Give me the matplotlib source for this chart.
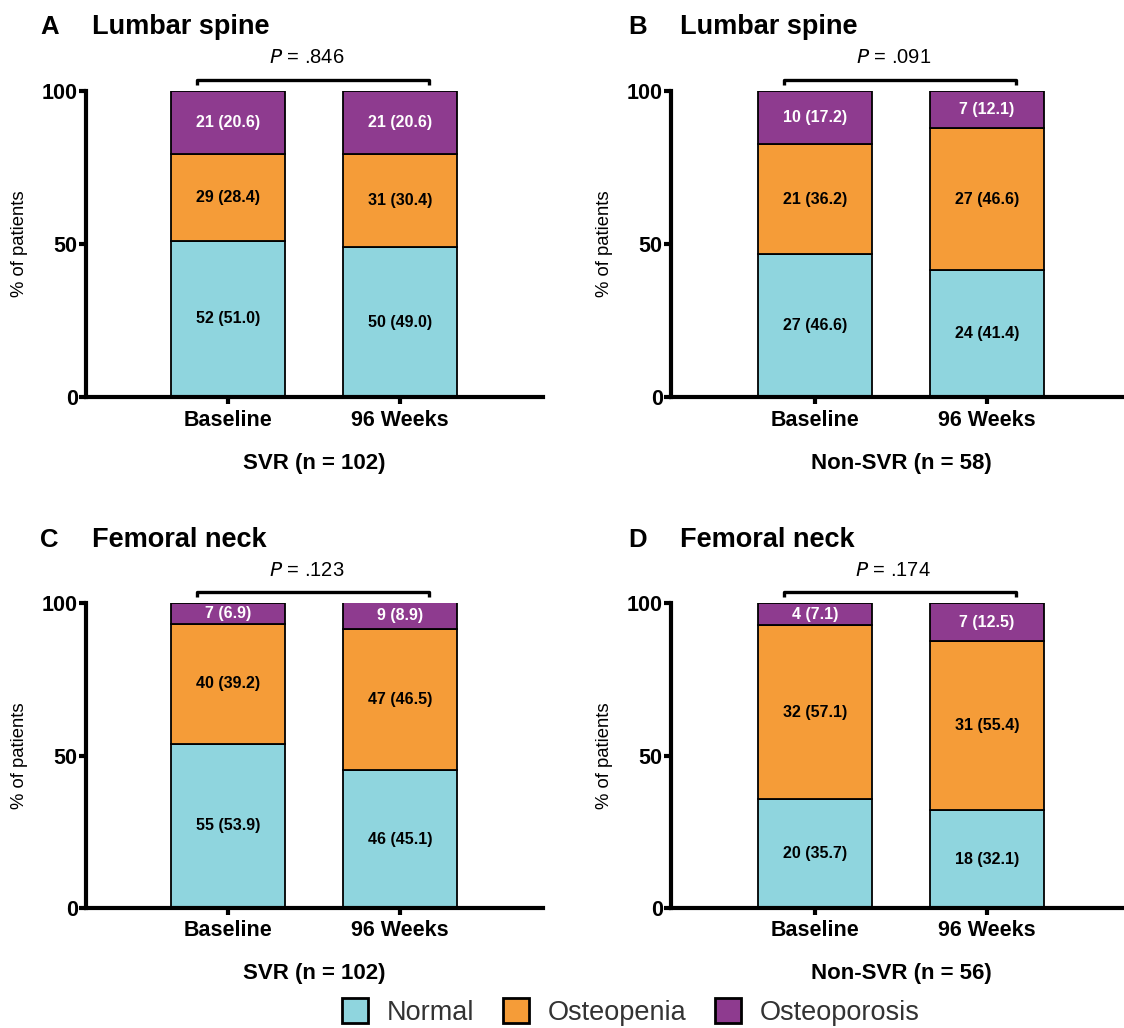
import matplotlib.pyplot as plt
from matplotlib.patches import Patch
import numpy as np

plt.rcParams['font.family'] = ['Liberation Sans', 'DejaVu Sans']

categories = ['Normal', 'Osteopenia', 'Osteoporosis']
timepoints = ['Baseline', '96 Weeks']
colors = ['#8fd5de', '#f59c38', '#8e3b8f']

# counts and percentages per panel: rows = Baseline, 96 Weeks
lumbar_svr_n = [[52, 29, 21], [50, 31, 21]]
lumbar_svr_pct = [[51.0, 28.4, 20.6], [49.0, 30.4, 20.6]]
lumbar_non_n = [[27, 21, 10], [24, 27, 7]]
lumbar_non_pct = [[46.6, 36.2, 17.2], [41.4, 46.6, 12.1]]
femoral_svr_n = [[55, 40, 7], [46, 47, 9]]
femoral_svr_pct = [[53.9, 39.2, 6.9], [45.1, 46.5, 8.9]]
femoral_non_n = [[20, 32, 4], [18, 31, 7]]
femoral_non_pct = [[35.7, 57.1, 7.1], [32.1, 55.4, 12.5]]

panels = [
    ('A', 'Lumbar spine', 'SVR (n = 102)', '.846', lumbar_svr_n, lumbar_svr_pct),
    ('B', 'Lumbar spine', 'Non-SVR (n = 58)', '.091', lumbar_non_n, lumbar_non_pct),
    ('C', 'Femoral neck', 'SVR (n = 102)', '.123', femoral_svr_n, femoral_svr_pct),
    ('D', 'Femoral neck', 'Non-SVR (n = 56)', '.174', femoral_non_n, femoral_non_pct),
]

W, H = 1124, 1028
fig = plt.figure(figsize=(W / 100, H / 100), dpi=100)

# axes boxes in pixels: left, top(y=100), bottom(y=0), right, first bar centre
boxes = [(86, 91, 397, 543, 228), (671, 91, 397, 1124, 815),
         (86, 603, 908, 543, 228), (671, 603, 908, 1124, 815)]
title_pos = [(40, 92, 27), (628, 680, 27), (40, 92, 540), (628, 680, 540)]
px_per_unit = 172.0

for (letter, title, xlabel, pval, counts, pcts), box, tp in zip(panels, boxes, title_pos):
    l, t, b, r, c0 = box
    ax = fig.add_axes([l / W, 1 - b / H, (r - l) / W, (b - t) / H])
    x = np.arange(len(timepoints))
    pcts = np.array(pcts)
    bottom = np.zeros(len(timepoints))
    for k in range(len(categories)):
        ax.bar(x, pcts[:, k], bottom=bottom, width=0.66, color=colors[k],
               edgecolor='black', linewidth=1.3)
        for i in range(len(timepoints)):
            yc = bottom[i] + pcts[i, k] / 2
            ax.text(x[i], yc, f'{counts[i][k]} ({pcts[i, k]:.1f})', ha='center', va='center',
                    fontsize=11.5, fontweight='bold',
                    color='white' if k == 2 else 'black')
        bottom += pcts[:, k]

    ax.set_xlim((l - c0) / px_per_unit, (r - c0) / px_per_unit)
    ax.set_ylim(0, 100)
    ax.set_yticks([0, 50, 100])
    ax.set_xticks(x)
    ax.set_xticklabels(timepoints, fontsize=15.5, fontweight='bold')
    for lab in ax.get_yticklabels():
        lab.set_fontsize(15.5)
        lab.set_fontweight('bold')
    ax.tick_params(axis='both', width=3, length=5, pad=1)
    ax.tick_params(axis='x', pad=4)
    for s in ['top', 'right']:
        ax.spines[s].set_visible(False)
    for s in ['left', 'bottom']:
        ax.spines[s].set_linewidth(3)
    ax.set_ylabel('% of patients', fontsize=13.3, labelpad=10)
    ax.set_xlabel(xlabel, fontsize=16, fontweight='bold')
    ax.xaxis.set_label_coords((c0 + 86 - l) / (r - l), -(463 - 397) / (b - t))
    ax.xaxis.label.set_va('center')

    # significance bracket
    bx0, bx1, by, bt = -0.18, 1.17, 103.5, 101.9
    ax.plot([bx0, bx0, bx1, bx1], [bt, by, by, bt], color='black', lw=2.4,
            clip_on=False, solid_capstyle='butt')
    ax.text(0.455, 110.8, f'$\\it{{P}}$ = {pval}', ha='center', va='center',
            fontsize=14.5, clip_on=False)

    fig.text(tp[0] / W, 1 - tp[2] / H, letter, fontsize=18.5, fontweight='bold',
             ha='left', va='center')
    fig.text(tp[1] / W, 1 - tp[2] / H, title, fontsize=19.5, fontweight='bold',
             ha='left', va='center')

handles = [Patch(facecolor=c, edgecolor='black', linewidth=2) for c in colors]
fig.legend(handles, categories, loc='center', bbox_to_anchor=(631 / W, 1 - 1012 / H),
           ncol=3, frameon=False, fontsize=19.5, handlelength=0.95, handleheight=1.0,
           handletextpad=0.7, columnspacing=1.05, labelcolor='#333333')

fig.savefig('out.png', dpi=100)
